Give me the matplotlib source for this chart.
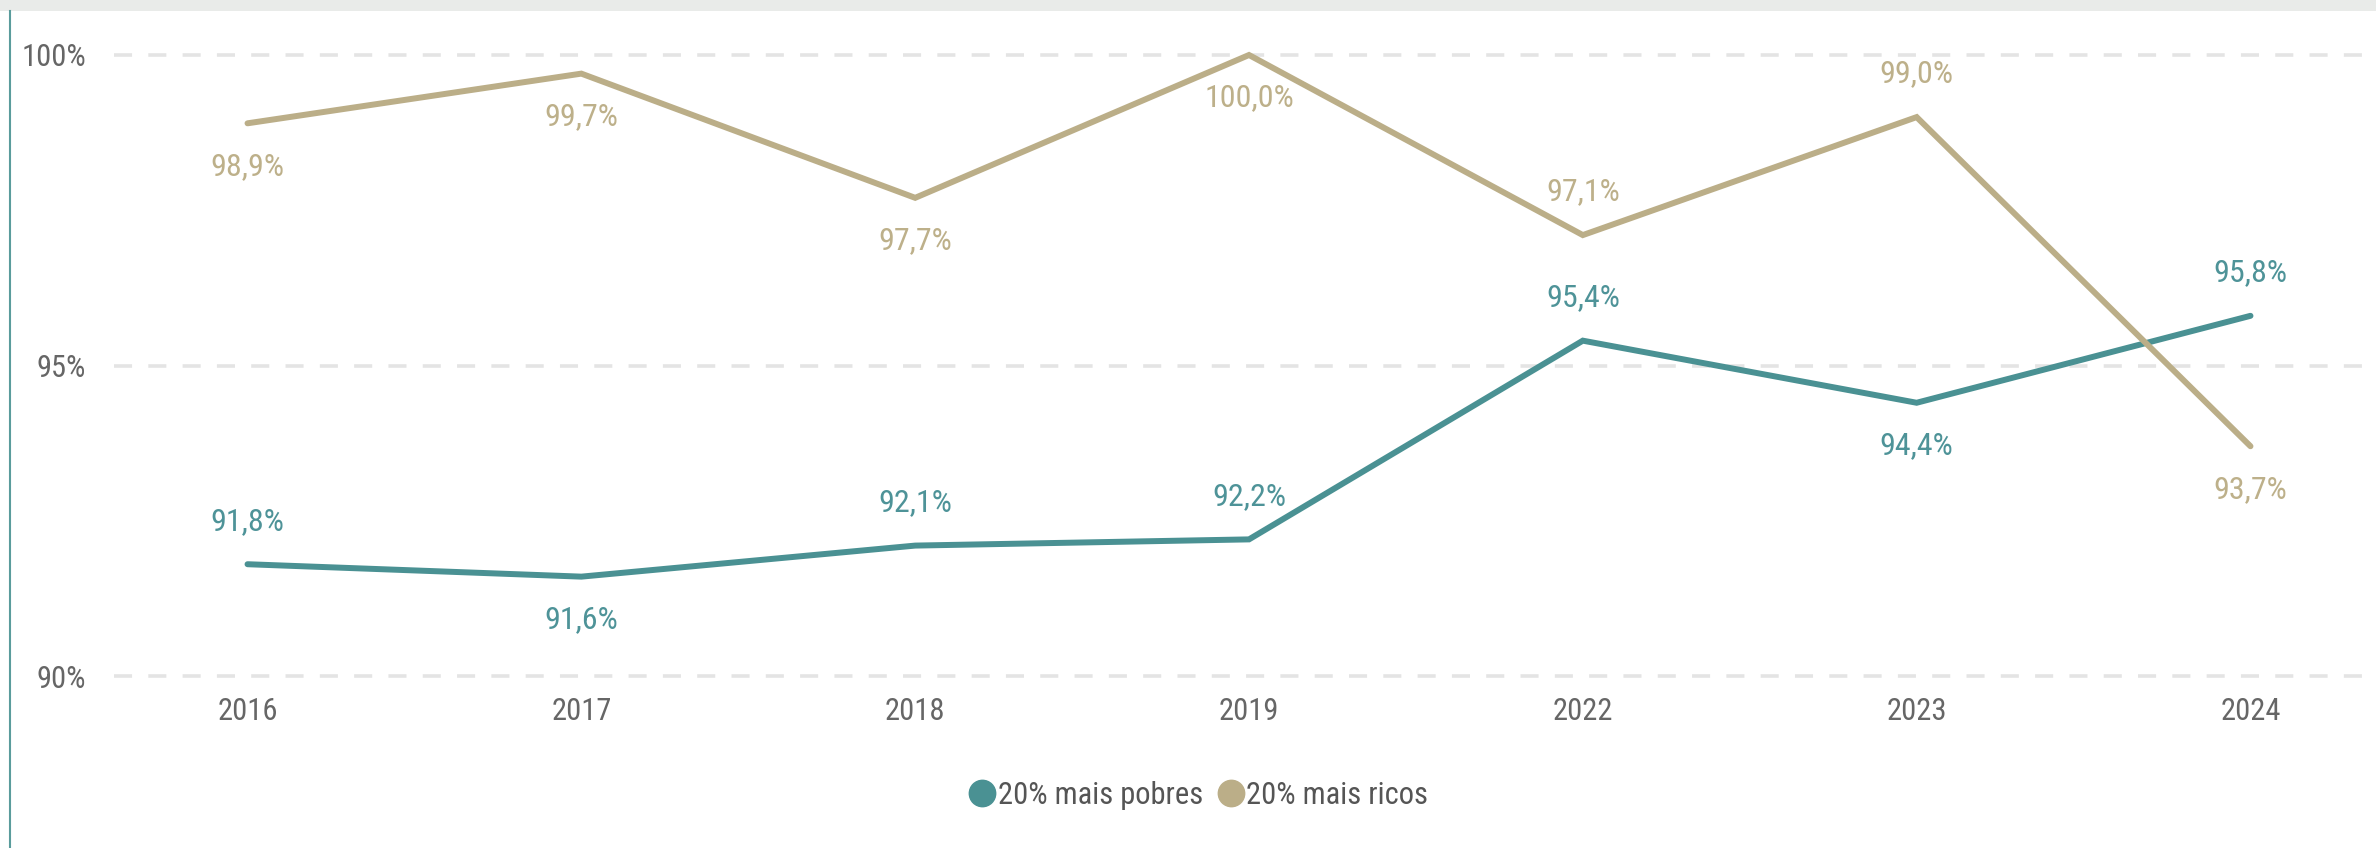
import matplotlib
matplotlib.use("Agg")
import matplotlib.pyplot as plt
from matplotlib import font_manager
from matplotlib.lines import Line2D
from matplotlib.patches import Rectangle

years = ["2016", "2017", "2018", "2019", "2022", "2023", "2024"]
pobres = [91.8, 91.6, 92.1, 92.2, 95.4, 94.4, 95.8]
ricos = [98.9, 99.7, 97.7, 100.0, 97.1, 99.0, 93.7]
# label placement: +1 above, -1 below
pobres_pos = [1, -1, 1, 1, 1, -1, 1]
ricos_pos = [-1, -1, -1, -1, 1, 1, -1]
series_names = ["20% mais pobres", "20% mais ricos"]
yticks = [90, 95, 100]
ytick_labels = ["90%", "95%", "100%"]

teal = "#4A9193"
tan = "#BBAE88"
teal_lbl = "#4E9398"
tan_lbl = "#BDB08A"

entries = font_manager.fontManager.ttflist
names = {f.name for f in entries}
stretch = "normal"
fam = "Roboto"
for cand in ["Liberation Sans Narrow", "Roboto Condensed", "Open Sans Condensed"]:
    if cand in names:
        fam = cand
        break
else:
    for f in entries:
        if f.name in ("DejaVu Sans", "Open Sans", "Noto Sans", "Roboto") and f.stretch in ("condensed", "semi-condensed", 300, 200):
            fam = f.name
            stretch = "condensed"
            break
plt.rcParams["font.family"] = [fam, "DejaVu Sans"]
plt.rcParams["font.stretch"] = stretch

W, H = 2376, 848
fig = plt.figure(figsize=(W / 100, H / 100), dpi=100)
fig.patch.set_facecolor("white")

y_lo, y_hi = 89.75, 100.4
px_per = (676 - 55) / 10.0
bottom_px = 676 + (90 - y_lo) * px_per
top_px = 55 - (y_hi - 100) * px_per
ax = fig.add_axes([114 / W, 1 - bottom_px / H, (2384 - 114) / W, (bottom_px - top_px) / H])
ax.set_xlim(-0.4, 6.4)
ax.set_ylim(y_lo, y_hi)
ax.set_facecolor("none")
for s in ax.spines.values():
    s.set_visible(False)

x = list(range(len(years)))
for yv in yticks:
    ax.axhline(yv, color="#E4E4E4", lw=2.6, dashes=(5, 4.5), zorder=0)

ax.plot(x, pobres, color=teal, lw=4.3, solid_capstyle="round", solid_joinstyle="miter", zorder=3)
ax.plot(x, ricos, color=tan, lw=4.3, solid_capstyle="round", solid_joinstyle="miter", zorder=3)

for xi, v, p in zip(x, pobres, pobres_pos):
    ax.annotate(f"{v:.1f}%".replace(".", ","), (xi, v), xytext=(0, 31 * p),
                textcoords="offset points", ha="center", va="center",
                fontsize=23, color=teal_lbl, annotation_clip=False)
for xi, v, p in zip(x, ricos, ricos_pos):
    ax.annotate(f"{v:.1f}%".replace(".", ","), (xi, v), xytext=(0, 31 * p),
                textcoords="offset points", ha="center", va="center",
                fontsize=23, color=tan_lbl, annotation_clip=False)

ax.set_yticks(yticks)
ax.set_yticklabels(ytick_labels)
ax.set_xticks(x)
ax.set_xticklabels(years)
ax.tick_params(axis="both", length=0, labelsize=22, labelcolor="#666666")
ax.tick_params(axis="y", pad=20)
ax.tick_params(axis="x", pad=4)

handles = [Line2D([], [], marker="o", ls="none", markersize=19, color=teal),
           Line2D([], [], marker="o", ls="none", markersize=19, color=tan)]
fig.legend(handles, series_names, loc="center", bbox_to_anchor=(0.504, 1 - 795 / H),
           ncol=2, frameon=False, fontsize=22, labelcolor="#555555",
           handletextpad=0.0, columnspacing=0.4, handlelength=1.0)

fig.patches.append(Rectangle((0, 1 - 11 / H), 1, 11 / H, transform=fig.transFigure,
                             facecolor="#E9EBE9", edgecolor="none", zorder=-1))
fig.lines.append(Line2D([9.5 / W, 9.5 / W], [0, 1 - 11 / H], transform=fig.transFigure,
                        color="#5A9C9C", lw=1.5))

fig.savefig("out.png", dpi=100, facecolor="white")
